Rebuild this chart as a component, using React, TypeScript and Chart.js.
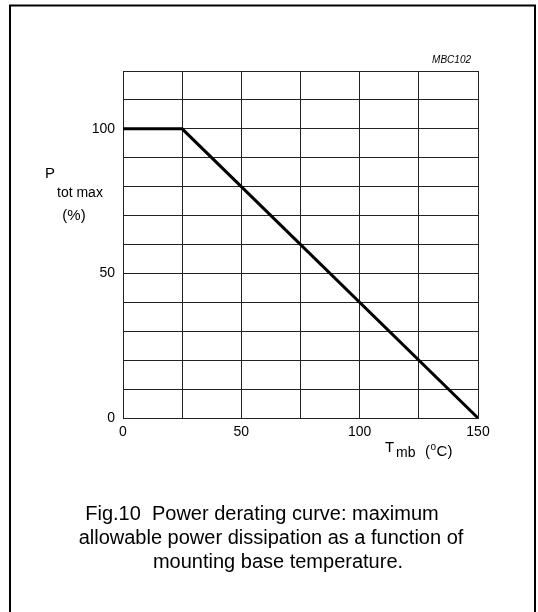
import React, { useEffect, useRef } from "react";
import { Chart, registerables } from "chart.js";

Chart.register(...registerables);

const tempC = [0, 25, 150];
const powerPct = [100, 100, 0];
const xTickLabels = [0, 50, 100, 150];
const yTickLabels = [0, 50, 100];
const captionLines = [
  "Fig.10  Power derating curve: maximum",
  "allowable power dissipation as a function of",
  "mounting base temperature.",
];
const captionCenters = [262, 271, 278];
const figCode = "MBC102";

const FONT = "'Liberation Sans', Arial, Helvetica, sans-serif";

const decorPlugin = {
  id: "decor",
  afterDraw(chart: any) {
    const ctx = chart.ctx as CanvasRenderingContext2D;
    ctx.save();
    ctx.fillStyle = "#000";
    ctx.strokeStyle = "#000";
    // outer frame
    ctx.lineWidth = 2;
    ctx.strokeRect(10, 5.5, 525, 620);
    ctx.textBaseline = "alphabetic";
    // figure code
    ctx.font = `italic 10px ${FONT}`;
    ctx.textAlign = "right";
    ctx.fillText(figCode, 471, 63);
    // y title
    ctx.textAlign = "left";
    ctx.font = `15px ${FONT}`;
    ctx.fillText("P", 45, 178);
    ctx.font = `14px ${FONT}`;
    ctx.fillText("tot max", 57, 197);
    ctx.font = `15px ${FONT}`;
    ctx.textAlign = "center";
    ctx.fillText("(%)", 74, 220);
    // x title
    ctx.textAlign = "left";
    ctx.font = `15px ${FONT}`;
    ctx.fillText("T", 385, 452);
    ctx.font = `14px ${FONT}`;
    ctx.fillText("mb", 396, 457);
    ctx.font = `15px ${FONT}`;
    let x = 425;
    ctx.fillText("(", x, 456);
    x += ctx.measureText("(").width + 0.5;
    ctx.font = `10px ${FONT}`;
    ctx.fillText("o", x, 450);
    x += ctx.measureText("o").width + 0.5;
    ctx.font = `15px ${FONT}`;
    ctx.fillText("C)", x, 456);
    // caption
    ctx.textAlign = "center";
    ctx.font = `20px ${FONT}`;
    captionLines.forEach((line, i) => {
      ctx.fillText(line, captionCenters[i], 520 + i * 24);
    });
    ctx.restore();
  },
};

export default function App() {
  const ref = useRef<HTMLCanvasElement | null>(null);
  useEffect(() => {
    if (!ref.current) return;
    const chart = new Chart(ref.current, {
      type: "scatter",
      data: {
        datasets: [
          {
            data: tempC.map((t, i) => ({ x: t, y: powerPct[i] })),
            showLine: true,
            borderColor: "#000",
            borderWidth: 3,
            pointRadius: 0,
            fill: false,
          },
        ],
      },
      options: {
        responsive: false,
        animation: false,
        events: [],
        layout: { padding: { left: 0, top: 71, right: 60, bottom: 164 } },
        plugins: {
          legend: { display: false },
          tooltip: { enabled: false },
          title: { display: false },
        },
        scales: {
          x: {
            type: "linear",
            min: 0,
            max: 150,
            afterFit: (s: any) => {
              s.height = 30;
            },
            ticks: {
              stepSize: 25,
              padding: 6,
              color: "#000",
              font: { family: FONT, size: 14 },
              callback: (v: any) => (xTickLabels.includes(v) ? String(v) : ""),
            },
            grid: { color: "#222", lineWidth: 1, drawTicks: false },
            border: { color: "#222", width: 1 },
          },
          y: {
            type: "linear",
            min: 0,
            max: 120,
            afterFit: (s: any) => {
              s.width = 123;
            },
            ticks: {
              stepSize: 10,
              padding: 8,
              color: "#000",
              font: { family: FONT, size: 14 },
              callback: (v: any) => (yTickLabels.includes(v) ? String(v) : ""),
            },
            grid: { color: "#222", lineWidth: 1, drawTicks: false },
            border: { color: "#222", width: 1 },
          },
        },
      },
      plugins: [decorPlugin],
    });
    return () => chart.destroy();
  }, []);
  return (
    <div style={{ position: "absolute", left: 0, top: 0, width: 538, height: 612, background: "#fff" }}>
      <canvas ref={ref} width={538} height={612} style={{ display: "block" }} />
    </div>
  );
}
